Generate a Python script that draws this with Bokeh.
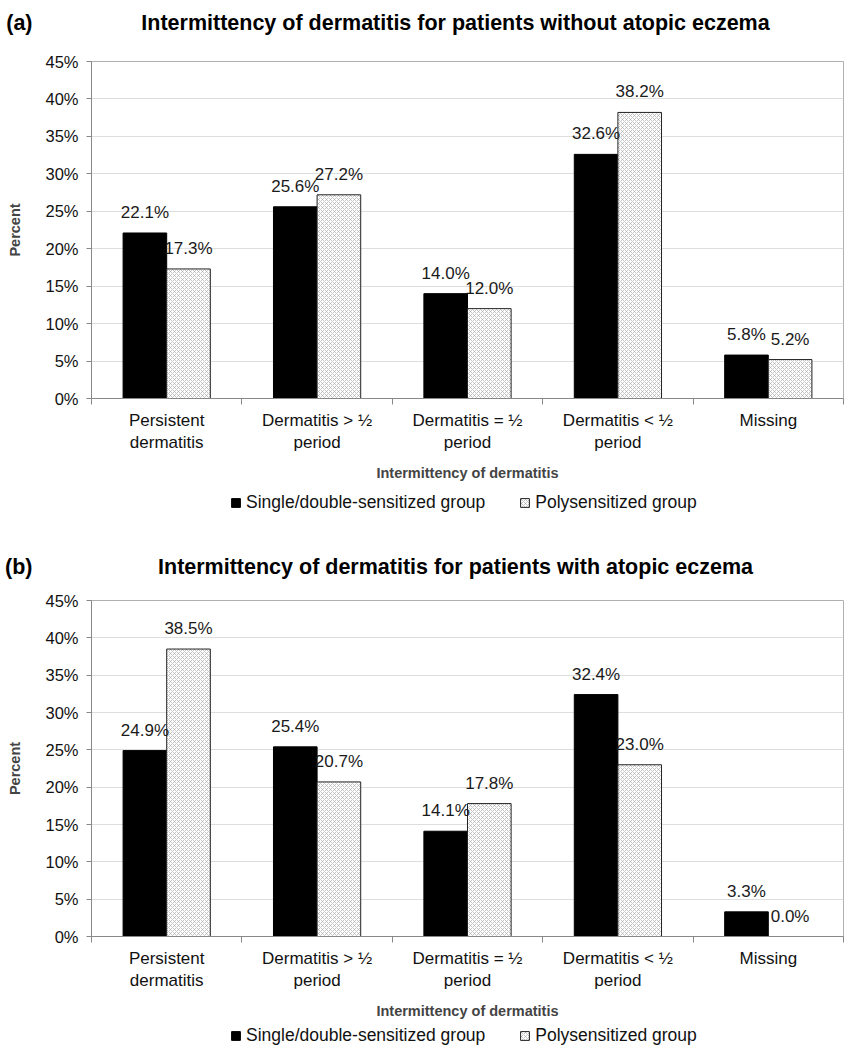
from bokeh.plotting import figure
from bokeh.models import (Range1d, FixedTicker, ColumnDataSource, Legend,
                          LegendItem, PrintfTickFormatter, LinearAxis)
from bokeh.layouts import column
from bokeh.core.properties import value
from bokeh.embed import file_html
from bokeh.resources import INLINE

categories = ["Persistent\ndermatitis", "Dermatitis > \u00bd\nperiod", "Dermatitis = \u00bd\nperiod",
              "Dermatitis < \u00bd\nperiod", "Missing"]
series_names = ["Single/double-sensitized group", "Polysensitized group"]
a_single = [22.1, 25.6, 14.0, 32.6, 5.8]
a_poly = [17.3, 27.2, 12.0, 38.2, 5.2]
b_single = [24.9, 25.4, 14.1, 32.4, 3.3]
b_poly = [38.5, 20.7, 17.8, 23.0, 0.0]
y_ticks = [0, 5, 10, 15, 20, 25, 30, 35, 40, 45]
x_title = "Intermittency of dermatitis"
y_title = "Percent"
tags = ["(a)", "(b)"]
titles = ["Intermittency of dermatitis for patients without atopic eczema",
          "Intermittency of dermatitis for patients with atopic eczema"]

FONT = "Liberation Sans"
W = 845
LEFT = 91
RIGHT = 2
BW = 0.29
SINGLE_STYLE = dict(fill_color="black", line_color="black", line_width=1)
POLY_STYLE = dict(fill_color="white", line_color="#222222", line_width=1,
                  hatch_pattern="x", hatch_color="#a0a0a0", hatch_scale=4,
                  hatch_weight=0.6)


def blank_fig(height):
    # same frame geometry as the charts so the column alignment does not shift it
    f = figure(width=W, height=height, x_range=Range1d(LEFT, W - RIGHT),
               y_range=Range1d(0, height),
               output_backend="svg", toolbar_location=None,
               x_axis_type=None, y_axis_type=None,
               min_border_left=LEFT, min_border_right=RIGHT,
               min_border_top=0, min_border_bottom=0)
    f.outline_line_color = None
    f.grid.grid_line_color = None
    return f


def title_fig(tag, title, height, center_from_top):
    f = blank_fig(height)
    yc = height - center_from_top
    f.text(x=[455], y=[yc], text=[title], text_align="center", text_baseline="middle",
           text_font=value(FONT), text_font_style="bold", text_font_size="21.5px",
           text_color="black")
    ax = LinearAxis(ticker=FixedTicker(ticks=[yc]), major_label_overrides={yc: tag},
                    axis_line_color=None, major_tick_line_color=None,
                    minor_tick_line_color=None, major_label_standoff=LEFT - 38,
                    major_label_text_font=FONT, major_label_text_font_style="bold",
                    major_label_text_font_size="21.5px", major_label_text_color="black")
    f.add_layout(ax, "left")
    return f


def legend_fig(height, bottom_px, src):
    f = blank_fig(height)
    r1 = f.vbar(x="xs", top="s", width=BW, source=src, visible=False, **SINGLE_STYLE)
    r2 = f.vbar(x="xp", top="p", width=BW, source=src, visible=False, **POLY_STYLE)
    legend = Legend(items=[LegendItem(label=series_names[0], renderers=[r1]),
                           LegendItem(label=series_names[1], renderers=[r2])],
                    orientation="horizontal", location=(230 - LEFT, bottom_px),
                    border_line_color=None, background_fill_alpha=0,
                    inactive_fill_alpha=0, click_policy="none",
                    label_text_font=FONT, label_text_font_size="17.5px",
                    label_text_color="#111111", label_height=18,
                    glyph_width=11, glyph_height=11, spacing=34,
                    label_standoff=5, padding=0, margin=0)
    f.add_layout(legend, "center")
    return f


def chart_fig(single, poly, height, top, bottom):
    n = len(categories)
    p = figure(width=W, height=height, x_range=Range1d(-0.5, n - 0.5),
               y_range=Range1d(y_ticks[0], y_ticks[-1]),
               output_backend="svg", toolbar_location=None,
               min_border_left=LEFT, min_border_right=RIGHT,
               min_border_top=top, min_border_bottom=bottom)
    p.outline_line_color = "#b0b0b0"

    idx = list(range(n))
    src = ColumnDataSource(dict(
        xs=[i - BW / 2 for i in idx], xp=[i + BW / 2 for i in idx],
        s=single, p=poly,
        ls=[f"{v:.1f}%" for v in single], lp=[f"{v:.1f}%" for v in poly]))

    p.vbar(x="xs", top="s", bottom=0, width=BW, source=src, **SINGLE_STYLE)
    p.vbar(x="xp", top="p", bottom=0, width=BW, source=src, **POLY_STYLE)
    for xcol, ycol, tcol in (("xs", "s", "ls"), ("xp", "p", "lp")):
        p.text(x=xcol, y=ycol, text=tcol, source=src, text_align="center",
               text_baseline="bottom", y_offset=-11, text_font=value(FONT),
               text_font_size="17px", text_color="#1a1a1a")

    p.xaxis.ticker = FixedTicker(ticks=idx, minor_ticks=[i - 0.5 for i in range(n + 1)])
    p.xaxis.major_label_overrides = {i: categories[i] for i in idx}
    p.xaxis.major_tick_in = 0
    p.xaxis.major_tick_out = 0
    p.xaxis.minor_tick_in = 0
    p.xaxis.minor_tick_out = 6
    p.xaxis.minor_tick_line_color = "#888888"
    p.xaxis.axis_line_color = "#888888"
    p.xaxis.major_label_text_font = FONT
    p.xaxis.major_label_text_font_size = "17px"
    p.xaxis.major_label_text_color = "#111111"
    p.xaxis.major_label_standoff = 6
    p.xaxis.axis_label = x_title
    p.xaxis.axis_label_text_font = FONT
    p.xaxis.axis_label_text_font_style = "bold"
    p.xaxis.axis_label_text_font_size = "14.5px"
    p.xaxis.axis_label_standoff = 10

    p.yaxis.ticker = FixedTicker(ticks=y_ticks)
    p.yaxis.formatter = PrintfTickFormatter(format="%d%%")
    p.yaxis.major_tick_in = 0
    p.yaxis.major_tick_out = 5
    p.yaxis.minor_tick_line_color = None
    p.yaxis.axis_line_color = "#888888"
    p.yaxis.major_tick_line_color = "#888888"
    p.yaxis.major_label_text_font = FONT
    p.yaxis.major_label_text_font_size = "16.5px"
    p.yaxis.major_label_text_color = "#111111"
    p.yaxis.major_label_standoff = 8
    p.yaxis.axis_label = y_title
    p.yaxis.axis_label_text_font = FONT
    p.yaxis.axis_label_text_font_style = "bold"
    p.yaxis.axis_label_text_font_size = "14.5px"
    p.yaxis.axis_label_standoff = 19

    p.xgrid.grid_line_color = None
    p.ygrid.grid_line_color = "#dedede"
    p.ygrid.grid_line_width = 1
    return p, src


chart_a, src_a = chart_fig(a_single, a_poly, 442, 16, 89)
chart_b, src_b = chart_fig(b_single, b_poly, 439, 17, 86)
figs = [title_fig(tags[0], titles[0], 45, 22), chart_a, legend_fig(36, 10, src_a),
        title_fig(tags[1], titles[1], 60, 43), chart_b, legend_fig(25, 1, src_b)]

layout = column(*figs, spacing=0)
open("out.html", "w").write(file_html(layout, INLINE))
